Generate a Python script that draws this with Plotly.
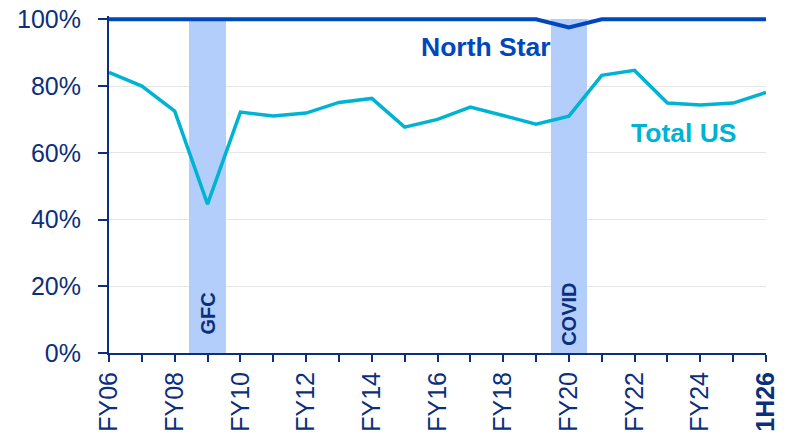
import plotly.graph_objects as go

categories = ["FY06", "FY07", "FY08", "FY09", "FY10", "FY11", "FY12", "FY13", "FY14", "FY15",
              "FY16", "FY17", "FY18", "FY19", "FY20", "FY21", "FY22", "FY23", "FY24", "FY25", "1H26"]
tick_labels = ["FY06", "", "FY08", "", "FY10", "", "FY12", "", "FY14", "", "FY16", "", "FY18", "",
               "FY20", "", "FY22", "", "FY24", "", "<b>1H26</b>"]
total_us = [84.1, 80.0, 72.5, 44.6, 72.2, 71.0, 71.9, 75.1, 76.3, 67.7, 70.0, 73.7, 71.2, 68.6,
            71.0, 83.2, 84.7, 74.9, 74.3, 74.9, 78.1]
north_star = [100, 100, 100, 100, 100, 100, 100, 100, 100, 100, 100, 100, 100, 100,
              97.6, 100, 100, 100, 100, 100, 100]
crisis_periods = ["FY09", "FY20"]
crisis_labels = ["GFC", "COVID"]
crisis_height = [100, 100]

NAVY = "#0B2F7B"
NS_BLUE = "#0047BB"
CYAN = "#00B3D3"
SHADE = "#B3CEFB"
FONT = "Arial, Liberation Sans, sans-serif"

fig = go.Figure()
fig.add_trace(go.Bar(x=crisis_periods, y=crisis_height, width=1.12, marker_color=SHADE,
                     marker_line_width=0, showlegend=False, hoverinfo="skip"))
fig.add_trace(go.Scatter(x=categories, y=total_us, mode="lines",
                         line=dict(color=CYAN, width=3.5), showlegend=False))
fig.add_trace(go.Scatter(x=categories, y=north_star, mode="lines",
                         line=dict(color=NS_BLUE, width=4), showlegend=False))

for c, lab in zip(crisis_periods, crisis_labels):
    fig.add_annotation(x=c, y=11.7, text=f"<b>{lab}</b>", textangle=-90, showarrow=False,
                       font=dict(family=FONT, size=20, color=NAVY))

fig.add_annotation(x=11.48, y=91.6, text="<b>North Star</b>", showarrow=False,
                   font=dict(family=FONT, size=26.5, color=NS_BLUE))
fig.add_annotation(x=17.5, y=65.9, text="<b>Total US</b>", showarrow=False,
                   font=dict(family=FONT, size=26.5, color=CYAN))

fig.update_layout(
    width=800, height=436,
    margin=dict(l=109, r=34, t=16, b=83),
    plot_bgcolor="white", paper_bgcolor="white",
    bargap=0,
    font=dict(family=FONT, color=NAVY),
)
fig.update_xaxes(type="category", categoryorder="array", categoryarray=categories,
                 range=[0, 20], tickmode="array", tickvals=categories, ticktext=tick_labels,
                 tickangle=-90, tickfont=dict(family=FONT, size=25, color=NAVY),
                 showline=True, linecolor=NAVY, linewidth=2,
                 ticks="outside", ticklen=7, tickwidth=2, tickcolor=NAVY,
                 showgrid=False, zeroline=False, automargin=False)
fig.update_yaxes(range=[0, 101], tickmode="array", tickvals=[0, 20, 40, 60, 80, 100],
                 ticktext=["0%", "20%", "40%", "60%", "80%", "100%"],
                 tickfont=dict(family=FONT, size=25, color=NAVY),
                 showline=True, linecolor=NAVY, linewidth=2,
                 ticks="outside", ticklen=9, tickwidth=2, tickcolor=NAVY,
                 ticklabelstandoff=12,
                 showgrid=True, gridcolor="#E6E6E6", gridwidth=1, zeroline=False,
                 automargin=False)

fig.write_html("out.html", config={"displayModeBar": False},
               post_script="document.body.style.margin='0';")
